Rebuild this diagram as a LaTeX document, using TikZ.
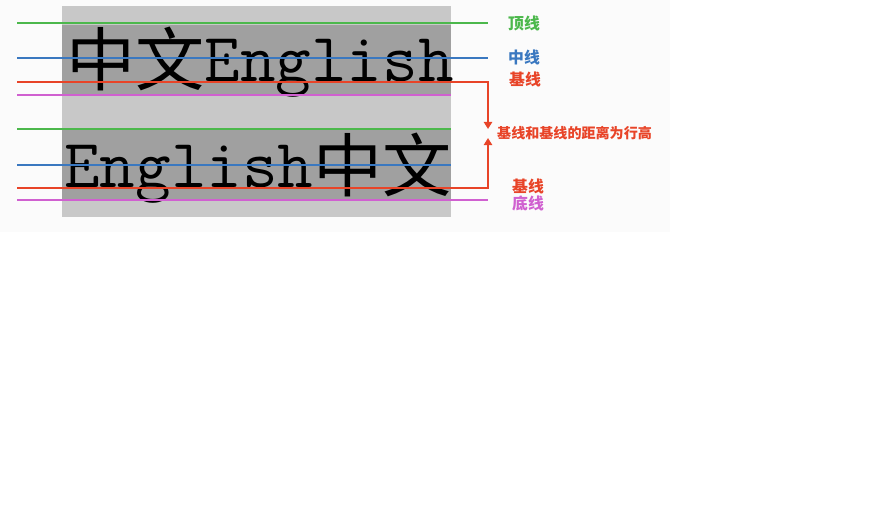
\documentclass[tikz,border=0pt]{standalone}
\usepackage{fontspec}
\usepackage{tikz}
\usetikzlibrary{arrows.meta, positioning}
\newfontfamily\cjk{Noto Sans CJK SC}
\definecolor{topgreen}{RGB}{76,184,76}
\definecolor{midblue}{RGB}{58,120,192}
\definecolor{basered}{RGB}{232,68,40}
\definecolor{bottommagenta}{RGB}{208,96,208}
\definecolor{boxgray}{RGB}{200,200,200}
\definecolor{bandgray}{RGB}{160,160,160}
\definecolor{shotbg}{RGB}{251,251,251}
\newcommand{\hanzi}[1]{\raisebox{-3pt}{\cjk #1}}

\begin{document}
\begin{tikzpicture}[
    x=0.03cm, y=-0.03cm,
    guide/.style={draw=#1, line width=1.6pt},
    lbl/.style={text=#1, inner sep=0pt,
                font=\cjk\bfseries\fontsize{13.5}{14}\selectfont},
    big/.style={anchor=base west, inner sep=0pt,
                font=\fontsize{59}{60}\selectfont},
    arr/.style={guide=basered, -{Triangle[length=6pt, width=7pt]}},
]
\useasboundingbox (0,0) rectangle (872,514);
\fill[shotbg] (0,0) rectangle (670,232);
\fill[boxgray] (62,6) rectangle (451,217);
\fill[bandgray] (62,25) rectangle (451,95);
\fill[bandgray] (62,130) rectangle (451,200);

\node[big] (first) at (66,82) {\hanzi{中文}{\ttfamily English}};
\node[big] (second) at (64,188) {{\ttfamily English}\hanzi{中文}};

% guide lines of the two rows
\draw[guide=topgreen] (17,23) -- (488,23);
\draw[guide=midblue] (17,58) -- (488,58);
\draw[guide=bottommagenta] (17,95) -- (451,95);
\draw[guide=topgreen] (17,129) -- (451,129);
\draw[guide=midblue] (17,165) -- (451,165);
\draw[guide=bottommagenta] (17,200) -- (488,200);

\coordinate (upperbase) at (17,82);
\coordinate (lowerbase) at (17,188);
\coordinate (gaptop) at (488,129);
\coordinate (gapbot) at (488,138);
\draw[arr] (upperbase) -| (gaptop);
\draw[arr] (lowerbase) -| (gapbot);

\node[lbl=topgreen] (toplbl) at (524,23) {顶线};
\node[lbl=midblue] (midlbl) at (524,57) {中线};
\node[lbl=basered] (baselbl) at (525,79) {基线};
\node[lbl=basered, anchor=west, font=\cjk\bfseries\fontsize{12}{13}\selectfont] (gaplbl) at (497,133) {基线和基线的距离为行高};
\node[lbl=basered] (baselbltwo) at (528,186) {基线};
\node[lbl=bottommagenta] (bottomlbl) at (528,203) {底线};
\end{tikzpicture}
\end{document}
